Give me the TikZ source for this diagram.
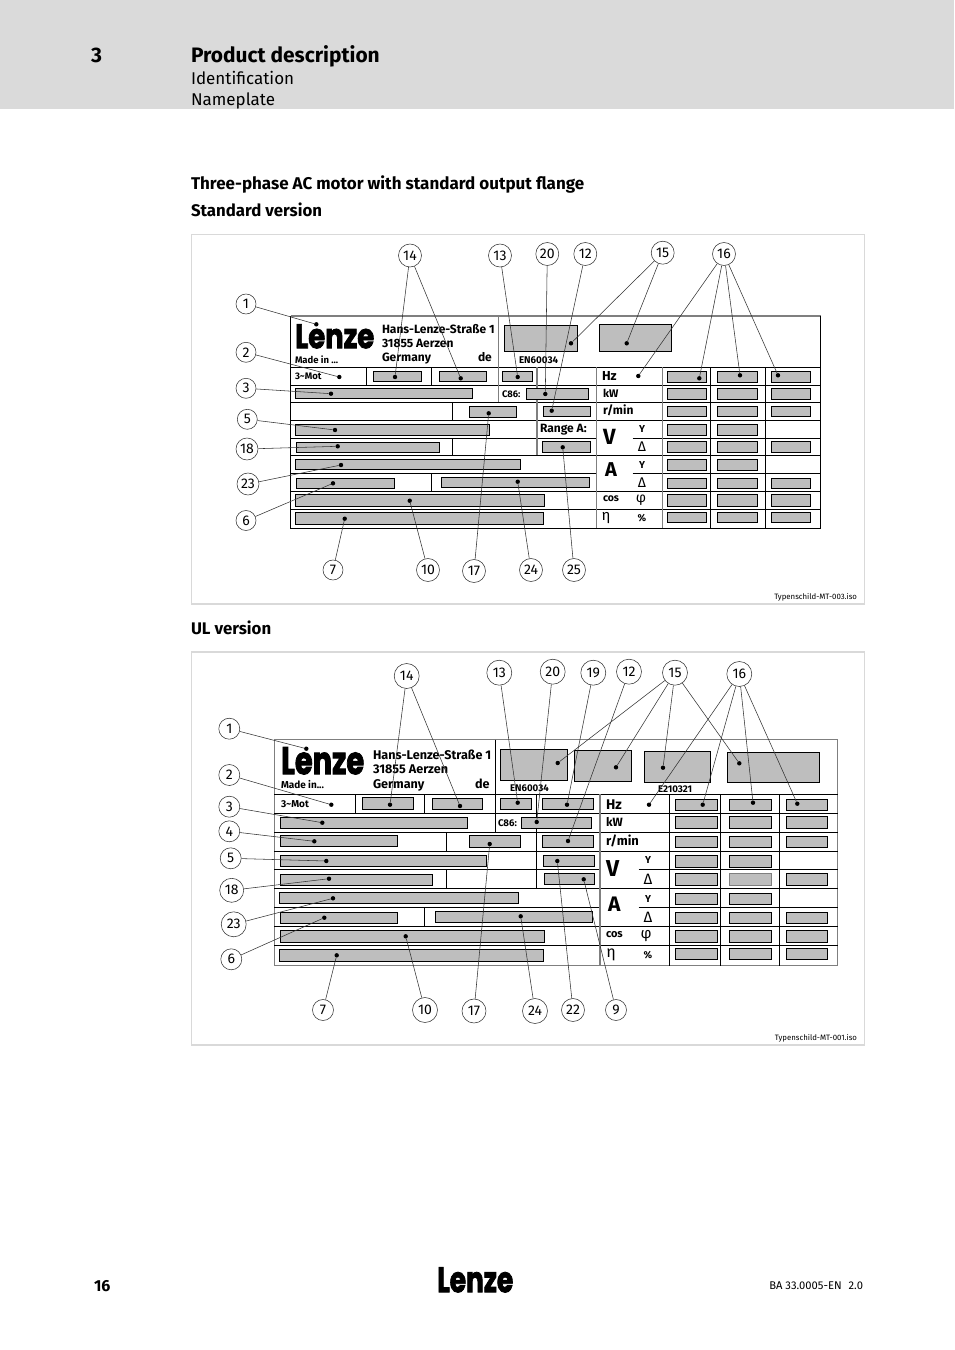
\documentclass[tikz,border=0pt]{standalone}
\usepackage{fontspec}
\setmainfont{Fira Sans}
\newfontfamily\logofont{Poppins}[FakeBold=2.5]
\newcounter{tn}
\tikzset{
  gbox/.style={draw=black,fill=boxgray,line width=0.9pt},
  grid/.style={draw=black,line width=0.9pt},
  gridg/.style={draw=gridgray,line width=1.1pt},
  frame/.style={draw=framegray,line width=1.8pt},
  call/.style={draw=black!80,line width=0.55pt},
  callc/.style={circle,draw=black!80,fill=white,line width=0.55pt,inner sep=0pt},
  dotn/.style={circle,fill=black,inner sep=0pt,minimum size=4.4pt},
  txt/.style={anchor=base west,inner sep=0pt,outer sep=0pt},
  txtr/.style={anchor=base east,inner sep=0pt,outer sep=0pt},
  txtc/.style={anchor=base,inner sep=0pt,outer sep=0pt},
}
\definecolor{boxgray}{HTML}{BEBEBE}
\definecolor{gridgray}{HTML}{7F7F7F}
\definecolor{framegray}{HTML}{D9D9D9}
\definecolor{bandgray}{HTML}{DADADA}
\newcommand{\tx}[5][txt]{\stepcounter{tn}\node[#1,name=t\arabic{tn}] at (#2,#3) {\fontsize{#4}{#4}\selectfont #5};}
\newcommand{\gb}[4]{\draw[gbox] (#1,#2) rectangle (#3,#4);}
\newcommand{\cc}[5]{\node[callc,minimum size=#4pt] (#1) at (#2,#3) {\fontsize{14}{14}\selectfont #5};}
\newcommand{\dd}[3]{\node[dotn] (#1) at (#2,#3) {};}
\newcommand{\lzlogo}[4]{\stepcounter{tn}\node[anchor=north west,inner sep=0pt,name=t\arabic{tn}] at (#1,#2) {\resizebox{#3pt}{#4pt}{\logofont\bfseries Lenze}};}
\begin{document}
\begin{tikzpicture}[x=1pt,y=-1pt]
\useasboundingbox (0,0) rectangle (954,1350);
\fill[bandgray] (0,0) rectangle (954,109);
\tx{91}{62}{21}{\bfseries 3}
\tx{191}{62}{20.9}{\bfseries Product description}
\tx{191}{84}{17}{Identification}
\tx{191}{105}{17}{Nameplate}
\tx{191}{189}{17}{\bfseries Three-phase AC motor with standard output flange}
\tx{191}{216}{16.8}{\bfseries Standard version}
\tx{191}{634}{16.8}{\bfseries UL version}
\draw[frame] (191.5,234.5) rectangle (864.5,604);
\draw[frame] (191.5,652) rectangle (864.5,1045);
\tx[txtr]{857}{599}{7.8}{Typenschild-MT-003.iso}
\tx[txtr]{857}{1040}{7.8}{Typenschild-MT-001.iso}
% ---------- plate A: grid
\draw[gridg] (290.5,316) -- (820.5,316);
\draw[grid] (290.5,316) -- (290.5,528.3) -- (820.5,528.3) -- (820.5,316);
\foreach \y in {367.3,385.3,402.3,420.3,455.3,491.3,509.3} \draw[grid] (290.5,\y) -- (820.5,\y);
\foreach \y in {438.3,473.3} {\draw[grid] (290.5,\y) -- (596.3,\y); \draw[grid] (632.7,\y) -- (820.5,\y);}
\draw[gridg] (498.3,316) -- (498.3,402.3);
\draw[grid] (366.3,367.3) -- (366.3,385.3);
\draw[grid] (431.3,367.3) -- (431.3,385.3);
\draw[grid] (452.3,402.3) -- (452.3,420.3);
\draw[grid] (452.3,438.3) -- (452.3,455.3);
\draw[grid] (431.3,473.3) -- (431.3,491.3);
\draw[gridg] (537,367.3) -- (537,455.3);
\draw[gridg] (596.3,367.3) -- (596.3,528.3);
\draw[gridg] (662.3,367.3) -- (662.3,528.3);
\draw[grid] (710.3,367.3) -- (710.3,528.3);
\draw[grid] (765.3,367.3) -- (765.3,528.3);
% plate A: boxes
\gb{504.3}{325}{577.7}{351.7}
\gb{599}{324.3}{671.7}{351.7}
\gb{373.3}{371.3}{421.7}{381.7}
\gb{439.3}{371.3}{486.7}{381.7}
\gb{502.3}{371.3}{532.7}{381.7}
\gb{295.3}{388.3}{472.7}{398.3}
\gb{526.7}{388.3}{588.3}{399}
\gb{469.3}{406.3}{516.7}{417.3}
\gb{543}{406.3}{590.7}{416.7}
\gb{295.3}{424.3}{489.3}{435.3}
\gb{296}{442.3}{439.3}{452.3}
\gb{542.3}{441.3}{590.7}{452.3}
\gb{295.3}{459.3}{520.7}{469.3}
\gb{296}{478.3}{394.3}{488.3}
\gb{441.3}{477.3}{589.7}{487.7}
\gb{295.3}{494.3}{544.3}{506.7}
\gb{295.3}{512.3}{543.7}{524.7}
\foreach \ya/\yb in {371.3/382.3,388.3/399,406.3/416.7,424.3/435.3,441.3/452.3,459.3/470,478.3/488.7,494.3/506.7,512.3/522.3} {
  \gb{667.3}{\ya}{706.7}{\yb}
  \gb{717.3}{\ya}{757.7}{\yb}
}
\foreach \ya/\yb in {371.3/382.3,388.3/399,406.3/416.7,441.3/452.3,478.3/488.7,494.3/506.7,512.3/522.3} {
  \gb{771.3}{\ya}{810.3}{\yb}
}
% plate A: text
\lzlogo{295}{324}{79}{24}
\tx{382}{333}{12}{\bfseries Hans-Lenze-Straße 1}
\tx{382}{347}{12}{\bfseries 31855 Aerzen}
\tx{382}{361}{12}{\bfseries Germany}
\tx{478}{361}{12}{\bfseries de}
\tx{295}{363}{9.5}{\bfseries Made in ...}
\tx{295}{379.5}{9.5}{\bfseries 3\char"007E Mot}
\tx{519}{363.5}{9.8}{\bfseries EN60034}
\tx{502}{397}{9.5}{\bfseries C86:}
\tx{602}{380}{13}{\bfseries Hz}
\tx{603}{397}{11}{\bfseries kW}
\tx{603}{414}{12}{\bfseries r/min}
\tx{540}{432}{12}{\bfseries Range A:}
\tx{603}{444}{22}{\bfseries V}
\tx{605}{476}{20}{\bfseries A}
\tx[txtc]{642}{432}{10}{\bfseries Y}
\tx[txtc]{642}{451}{14}{Δ}
\tx[txtc]{642}{468}{10}{\bfseries Y}
\tx[txtc]{642}{487}{14}{Δ}
\tx{603}{501}{10.5}{\bfseries cos}
\tx[txtc]{641}{502}{14}{φ}
\tx[txtc]{606}{520}{15}{η}
\tx[txtc]{642}{521}{10}{\bfseries \%}
% plate A: callouts
\dd{a1d}{316.3}{324.3} \dd{a2d}{339.3}{377} \dd{a3d}{331}{393.7} \dd{a5d}{335}{430}
\dd{a18d}{337.7}{446.3} \dd{a23d}{341}{465} \dd{a6d}{333}{483.3} \dd{a7d}{344.7}{518.7}
\dd{a10d}{409.7}{500.7} \dd{a17d}{488.7}{413.3} \dd{a24d}{517.7}{481.7} \dd{a25d}{562.7}{447.3}
\dd{a14p}{395}{377} \dd{a14q}{460.7}{378.3} \dd{a13d}{517.7}{377} \dd{a20d}{545.3}{394}
\dd{a12d}{551.7}{410.7} \dd{a15p}{571}{343.3} \dd{a15q}{626.7}{343.3}
\dd{a16p}{638.3}{376} \dd{a16q}{699.3}{378.3} \dd{a16r}{740}{375.3} \dd{a16s}{778}{375.3}
\cc{a1}{246}{304}{20}{1} \cc{a2}{246}{352.3}{20}{2} \cc{a3}{246}{388.3}{20}{3}
\cc{a5}{247.3}{419.3}{20}{5} \cc{a18}{247}{449}{22}{18} \cc{a23}{248}{484}{22}{23}
\cc{a6}{246}{520.5}{20}{6} \cc{a7}{333}{570}{20}{7} \cc{a10}{428}{570}{23}{10}
\cc{a17}{474}{571}{23}{17} \cc{a24}{531}{570}{23}{24} \cc{a25}{574}{570}{23}{25}
\cc{a14}{410}{255.5}{23}{14} \cc{a13}{500}{255.5}{23}{13} \cc{a20}{547.3}{254}{23}{20}
\cc{a12}{585.3}{254}{23}{12} \cc{a15}{662.7}{252.7}{23}{15} \cc{a16}{724}{254}{23}{16}
\foreach \n in {1,2,3,5,18,23,6,7,10,17,24,25,13,20,12} \draw[call] (a\n) -- (a\n d);
\draw[call] (a14) -- (a14p); \draw[call] (a14) -- (a14q);
\draw[call] (a15) -- (a15p); \draw[call] (a15) -- (a15q);
\draw[call] (a16) -- (a16p); \draw[call] (a16) -- (a16q); \draw[call] (a16) -- (a16r); \draw[call] (a16) -- (a16s);
% ---------- plate B: grid
\draw[gridg] (274.3,739.7) -- (837.7,739.7);
\draw[gridg] (274.3,739.7) -- (274.3,965.7) -- (837.7,965.7) -- (837.7,739.7);
\foreach \y in {794.3,813.3,832.3,851.3,888.3,926.3,945.3} \draw[grid] (274.3,\y) -- (837.7,\y);
\foreach \y in {869.3,907.3} {\draw[grid] (274.3,\y) -- (600,\y); \draw[grid] (638.7,\y) -- (837.7,\y);}
\draw[grid] (495.3,739.7) -- (495.3,832.3);
\draw[grid] (355.3,794.3) -- (355.3,813.3);
\draw[grid] (424.3,794.3) -- (424.3,813.3);
\draw[grid] (446.7,832.3) -- (446.7,851.3);
\draw[grid] (446.7,869.3) -- (446.7,888.3);
\draw[grid] (424.3,907.3) -- (424.3,926.3);
\draw[grid] (536.3,794.3) -- (536.3,888.3);
\draw[gridg] (600,794.3) -- (600,965.7);
\draw[grid] (669.3,794.3) -- (669.3,965.7);
\draw[grid] (720.3,794.3) -- (720.3,965.7);
\draw[grid] (779.3,794.3) -- (779.3,965.7);
% plate B: boxes
\gb{500.3}{749.3}{567.3}{780.3}
\gb{574.3}{750.3}{631.7}{781.3}
\gb{644.3}{751.3}{710.3}{782.3}
\gb{727.3}{752.3}{819.3}{782.3}
\gb{362.3}{797.3}{413.7}{809.3}
\gb{432.3}{798.3}{482.7}{809.3}
\gb{500.3}{798.3}{531.7}{809.3}
\gb{542.3}{798.3}{593.3}{809.7}
\gb{280.3}{817.7}{467.3}{828.7}
\gb{521.7}{817.7}{591.3}{828.7}
\gb{280.3}{835.3}{397.7}{846.3}
\gb{469.3}{835.3}{520.7}{847.3}
\gb{542.3}{835.3}{593.3}{847.3}
\gb{280.3}{855.3}{486.7}{866.7}
\gb{543.3}{855.3}{594.3}{866.7}
\gb{544.3}{873.3}{594.3}{884.7}
\gb{280.3}{874.3}{432.7}{885.3}
\gb{279.3}{892.3}{518.7}{903.7}
\gb{280.3}{912.3}{397.7}{923.3}
\gb{435.3}{911.3}{592.3}{922.3}
\gb{280.3}{930.3}{544.3}{942.3}
\gb{279.3}{949.3}{543.3}{961.3}
\foreach \ya/\yb in {799.3/810.7,816.7/828.7,836.3/847.3,855.3/867.3,873.3/885.3,893.3/904.7,912.3/923.3,930.3/942.3,948.3/959.3} {
  \gb{675.3}{\ya}{717.3}{\yb}
  \gb{729.3}{\ya}{771.3}{\yb}
}
\draw[draw=gridgray,fill=boxgray,line width=1pt] (729.3,873.3) rectangle (771.3,885.3);
\foreach \ya/\yb in {799.3/810.7,816.7/828.7,836.3/847.3,873.3/885.3,912.3/923.3,930.3/942.3,948.3/959.3} {
  \gb{786}{\ya}{827.3}{\yb}
}
% plate B: text
\lzlogo{281}{747}{83}{27}
\tx{373}{759}{12.6}{\bfseries Hans-Lenze-Straße 1}
\tx{373}{773}{12.6}{\bfseries 31855 Aerzen}
\tx{373}{788}{12.6}{\bfseries Germany}
\tx{475}{788}{12.6}{\bfseries de}
\tx{281}{788.5}{10}{\bfseries Made in...}
\tx{281}{807.5}{10}{\bfseries 3\char"007E Mot}
\tx{510}{791.5}{9.7}{\bfseries EN60034}
\tx{658}{792}{9.7}{\bfseries E210321}
\tx{498}{826.5}{9.7}{\bfseries C86:}
\tx{606}{809}{14}{\bfseries Hz}
\tx{606}{826}{12}{\bfseries kW}
\tx{606}{845}{13}{\bfseries r/min}
\tx{606}{876}{23}{\bfseries V}
\tx{608}{911}{21}{\bfseries A}
\tx[txtc]{648}{863}{10}{\bfseries Y}
\tx[txtc]{648}{884}{15}{Δ}
\tx[txtc]{648}{902}{10}{\bfseries Y}
\tx[txtc]{648}{922}{15}{Δ}
\tx{606}{937}{11}{\bfseries cos}
\tx[txtc]{646}{938}{15}{φ}
\tx[txtc]{611}{957}{16}{η}
\tx[txtc]{648}{958}{10}{\bfseries \%}
% plate B: callouts
\dd{b1d}{306.3}{748.7} \dd{b2d}{331.3}{804.7} \dd{b3d}{322.3}{822.7} \dd{b4d}{314.3}{841.3}
\dd{b5d}{326.3}{861} \dd{b18d}{329}{878.7} \dd{b23d}{333}{898.3} \dd{b6d}{324.3}{917.7}
\dd{b7d}{336.7}{955.3} \dd{b10d}{405.7}{936.3} \dd{b17d}{489.7}{844} \dd{b24d}{520.7}{916.3}
\dd{b22d}{557.3}{861} \dd{b9d}{583.7}{879.3}
\dd{b14p}{390}{804.7} \dd{b14q}{460}{806} \dd{b13d}{517.7}{802.7} \dd{b20d}{536.7}{822}
\dd{b19d}{567}{804.7} \dd{b12d}{568}{841}
\dd{b15p}{557.7}{763} \dd{b15q}{616}{767.3} \dd{b15r}{663}{767.7} \dd{b15s}{739.3}{763.3}
\dd{b16p}{649}{804.7} \dd{b16q}{702.7}{804.7} \dd{b16r}{753}{802.7} \dd{b16s}{797.3}{803.7}
\cc{b1}{229.3}{728.7}{21}{1} \cc{b2}{229.3}{775}{21}{2} \cc{b3}{229.3}{806.7}{21}{3}
\cc{b4}{229.3}{831.3}{21}{4} \cc{b5}{230.7}{858.3}{21}{5} \cc{b18}{231.7}{890.3}{24}{18}
\cc{b23}{233.7}{924.3}{25}{23} \cc{b6}{231.3}{959.3}{21}{6} \cc{b7}{323}{1010}{21}{7}
\cc{b10}{425}{1010}{25}{10} \cc{b17}{474}{1011}{24}{17} \cc{b24}{535}{1011}{25}{24}
\cc{b22}{573}{1010}{23}{22} \cc{b9}{616}{1010}{21}{9} \cc{b14}{406.7}{676}{25}{14}
\cc{b13}{499.3}{672.7}{25}{13} \cc{b20}{552.7}{671.7}{25}{20} \cc{b19}{593.3}{672.7}{25}{19}
\cc{b12}{629}{671.7}{25}{12} \cc{b15}{675}{672.7}{25}{15} \cc{b16}{739.3}{674}{25}{16}
\foreach \n in {1,2,3,4,5,18,23,6,7,10,17,24,22,9,13,20,19,12} \draw[call] (b\n) -- (b\n d);
\draw[call] (b14) -- (b14p); \draw[call] (b14) -- (b14q);
\draw[call] (b15) -- (b15p); \draw[call] (b15) -- (b15q); \draw[call] (b15) -- (b15r); \draw[call] (b15) -- (b15s);
\draw[call] (b16) -- (b16p); \draw[call] (b16) -- (b16q); \draw[call] (b16) -- (b16r); \draw[call] (b16) -- (b16s);
% footer
\tx{94}{1291}{16}{\bfseries 16}
\lzlogo{437}{1267}{76}{25}
\tx[txtr]{863}{1289}{11.2}{BA 33.0005-EN\hspace{7pt}2.0}
\end{tikzpicture}
\end{document}
